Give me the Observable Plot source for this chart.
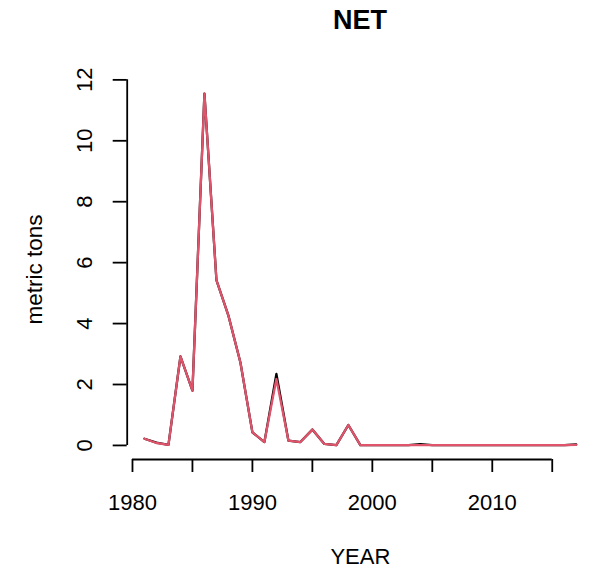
<!DOCTYPE html>
<html><head><meta charset="utf-8">
<script src="https://cdn.jsdelivr.net/npm/d3@7"></script>
<script src="https://cdn.jsdelivr.net/npm/@observablehq/plot@0.6"></script>
<style>
body{margin:0;background:#fff;font-family:"Liberation Sans",Arial,sans-serif;}
#wrap{width:597px;height:570px;position:relative;background:#fff;}
#title{position:absolute;left:127px;width:466px;top:0;height:40px;line-height:40px;text-align:center;font-weight:bold;font-size:27px;color:#000;}
#chart{position:absolute;top:40px;left:0;}
</style></head><body>
<div id="wrap"><div id="title"></div><div id="chart"></div></div>
<script>
const titleText = "NET";
const xTitle = "YEAR";
const yTitle = "metric tons";
const years = [1981,1982,1983,1984,1985,1986,1987,1988,1989,1990,1991,1992,1993,1994,1995,1996,1997,1998,1999,
               2000,2001,2002,2003,2004,2005,2006,2007,2008,2009,2010,2011,2012,2013,2014,2015,2016,2017];
const netBlack = [0.22,0.09,0.02,2.92,1.80,11.55,5.43,4.26,2.72,0.43,0.11,2.35,0.16,0.11,0.52,0.05,0.01,0.67,0.01,
                  0.01,0.01,0.01,0.01,0.04,0.01,0.01,0.01,0.01,0.01,0.01,0.01,0.01,0.01,0.01,0.01,0.01,0.03];
const netRed = [0.22,0.08,0.02,2.92,1.80,11.55,5.43,4.26,2.72,0.43,0.11,2.18,0.16,0.11,0.52,0.05,0.01,0.67,0.01,
                0.01,0.01,0.01,0.01,0.01,0.01,0.01,0.01,0.01,0.01,0.01,0.01,0.01,0.01,0.01,0.01,0.01,0.02];
const xTicks = [1980,1985,1990,1995,2000,2005,2010,2015];
const xLabels = [1980,1990,2000,2010];
const yTicks = [0,2,4,6,8,10,12];

document.getElementById("title").textContent = titleText;

const pad = 0.04;
const [x0, x1] = d3.extent(years);
const xs = (x1 - x0) * pad;
const xDomain = [x0 - xs, x1 + xs];
const yMin = 0, yMax = d3.max([...netRed, ...netBlack]);
const ys = (yMax - yMin) * pad;
const yDomain = [yMin - ys, yMax + ys];

const rowsBlack = years.map((y, i) => ({year: y, v: netBlack[i]}));
const rowsRed = years.map((y, i) => ({year: y, v: netRed[i]}));

const chart = Plot.plot({
  width: 597,
  height: 530,
  marginLeft: 126.7,
  marginRight: 4,
  marginTop: 39,
  marginBottom: 111,
  x: {domain: xDomain, label: null},
  y: {domain: yDomain, label: null},
  style: {fontFamily: '"Liberation Sans", Arial, sans-serif', fontSize: "22px", background: "white", color: "black", overflow: "visible"},
  marks: [
    Plot.ruleX([xDomain[0]], {y1: d3.min(yTicks), y2: d3.max(yTicks), stroke: "black", strokeWidth: 1.8}),
    Plot.ruleY([yDomain[0]], {x1: d3.min(xTicks), x2: d3.max(xTicks), stroke: "black", strokeWidth: 1.8}),
    Plot.axisX({ticks: xTicks, tickSize: 13, tickPadding: 22, strokeWidth: 1.8, label: null, fontSize: 22,
                tickFormat: d => xLabels.includes(d) ? String(d) : ""}),
    Plot.axisY({ticks: yTicks, tickSize: 14, strokeWidth: 1.8, label: null, tickFormat: () => ""}),
    Plot.text(yTicks, {frameAnchor: "left", y: d => d, text: d => String(d), rotate: -90, dx: -42,
                       textAnchor: "middle", lineAnchor: "middle", fontSize: 22, fill: "black"}),
    Plot.text([yTitle], {frameAnchor: "left", text: d => d, rotate: -90, dx: -92,
                         textAnchor: "middle", lineAnchor: "middle", fontSize: 22.5, fill: "black"}),
    Plot.text([xTitle], {frameAnchor: "bottom", text: d => d, dy: 97.5,
                         textAnchor: "middle", lineAnchor: "middle", fontSize: 22, fill: "black"}),
    Plot.line(rowsBlack, {x: "year", y: "v", stroke: "black", strokeWidth: 2.3}),
    Plot.line(rowsRed, {x: "year", y: "v", stroke: "#DF536B", strokeWidth: 2.3})
  ]
});
document.getElementById("chart").appendChild(chart);
</script>
</body></html>
